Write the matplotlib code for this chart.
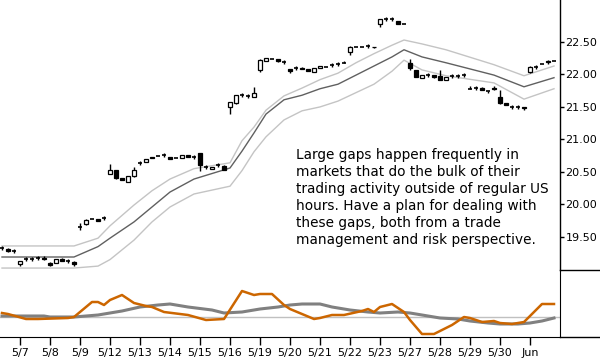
import matplotlib
matplotlib.use("Agg")
import matplotlib.pyplot as plt
from matplotlib.patches import Rectangle
from matplotlib.lines import Line2D

# ---- candle data (5 bars per session) ----
opens = [19.33, 19.32, 19.29, 19.09, 19.16, 19.16, 19.18, 19.18, 19.10, 19.10,
         19.16, 19.13, 19.12, 19.65, 19.70, 19.78, 19.78, 19.79, 20.47, 20.53,
         20.41, 20.35, 20.44, 20.64, 20.65, 20.73, 20.75, 20.76, 20.73, 20.72,
         20.71, 20.76, 20.73, 20.79, 20.58, 20.55, 20.61, 20.59, 21.50, 21.56,
         21.69, 21.67, 21.65, 22.07, 22.21, 22.24, 22.24, 22.19, 22.08, 22.10,
         22.10, 22.08, 22.04, 22.10, 22.12, 22.15, 22.16, 22.18, 22.35, 22.42,
         22.42, 22.44, 22.43, 22.78, 22.85, 22.85, 22.82, 22.78, 22.18, 22.07,
         21.95, 21.99, 21.99, 21.98, 21.92, 21.98, 21.98, 21.99, 21.78, 21.79,
         21.79, 21.75, 21.79, 21.65, 21.56, 21.50, 21.50, 21.50, 22.04, 22.12,
         22.16, 22.20, 22.21]
highs = [19.36, 19.33, 19.32, 19.13, 19.19, 19.19, 19.21, 19.21, 19.12, 19.16,
         19.18, 19.16, 19.13, 19.72, 19.78, 19.78, 19.78, 19.82, 20.62, 20.53,
         20.41, 20.44, 20.58, 20.67, 20.70, 20.73, 20.75, 20.79, 20.73, 20.72,
         20.76, 20.76, 20.76, 20.79, 20.61, 20.58, 20.64, 20.60, 21.58, 21.69,
         21.72, 21.70, 21.81, 22.24, 22.26, 22.24, 22.24, 22.22, 22.08, 22.13,
         22.11, 22.08, 22.10, 22.13, 22.12, 22.18, 22.19, 22.21, 22.44, 22.42,
         22.42, 22.47, 22.43, 22.85, 22.88, 22.88, 22.82, 22.78, 22.24, 22.07,
         21.99, 22.02, 21.99, 22.07, 21.96, 22.01, 22.01, 22.02, 21.82, 21.82,
         21.80, 21.75, 21.82, 21.76, 21.56, 21.53, 21.53, 21.50, 22.13, 22.15,
         22.16, 22.23, 22.21]
lows = [19.30, 19.27, 19.25, 19.05, 19.13, 19.13, 19.15, 19.15, 19.05, 19.10,
        19.13, 19.10, 19.05, 19.61, 19.68, 19.78, 19.74, 19.76, 20.47, 20.39,
        20.37, 20.35, 20.42, 20.61, 20.65, 20.71, 20.75, 20.73, 20.70, 20.72,
        20.71, 20.73, 20.70, 20.51, 20.55, 20.54, 20.58, 20.53, 21.39, 21.55,
        21.65, 21.64, 21.65, 22.04, 22.21, 22.24, 22.19, 22.16, 22.02, 22.07,
        22.08, 22.05, 22.04, 22.10, 22.12, 22.12, 22.13, 22.18, 22.30, 22.42,
        22.42, 22.41, 22.41, 22.73, 22.82, 22.82, 22.77, 22.78, 22.07, 21.96,
        21.95, 21.96, 21.95, 21.92, 21.92, 21.95, 21.95, 21.96, 21.78, 21.76,
        21.76, 21.71, 21.76, 21.55, 21.53, 21.47, 21.47, 21.45, 22.02, 22.09,
        22.16, 22.16, 22.21]
closes = [19.33, 19.29, 19.29, 19.13, 19.16, 19.16, 19.18, 19.16, 19.07, 19.16,
          19.13, 19.13, 19.08, 19.65, 19.76, 19.78, 19.75, 19.79, 20.53, 20.41,
          20.38, 20.44, 20.53, 20.64, 20.70, 20.72, 20.75, 20.76, 20.70, 20.72,
          20.76, 20.73, 20.73, 20.61, 20.58, 20.58, 20.61, 20.53, 21.58, 21.69,
          21.69, 21.67, 21.72, 22.22, 22.25, 22.24, 22.20, 22.19, 22.05, 22.10,
          22.08, 22.05, 22.10, 22.13, 22.12, 22.15, 22.16, 22.18, 22.42, 22.42,
          22.42, 22.44, 22.42, 22.85, 22.85, 22.85, 22.78, 22.78, 22.10, 21.96,
          21.99, 21.99, 21.96, 21.92, 21.96, 21.98, 21.98, 21.99, 21.78, 21.79,
          21.76, 21.75, 21.77, 21.56, 21.53, 21.50, 21.50, 21.48, 22.12, 22.12,
          22.16, 22.19, 22.21]

day_labels = ["5/7", "5/8", "5/9", "5/12", "5/13", "5/14", "5/15", "5/16", "5/19",
              "5/20", "5/21", "5/22", "5/23", "5/27", "5/28", "5/29", "5/30", "Jun"]
day_first_bar = [3, 8, 13, 18, 23, 28, 33, 38, 43, 48, 53, 58, 63, 68, 73, 78, 83, 88]

price_ticks = [19.5, 20.0, 20.5, 21.0, 21.5, 22.0, 22.5]

# ---- moving average and channel ----
ma_x = [0, 12, 16, 18, 22, 25, 28, 32, 38, 40, 42, 44, 47, 50, 53, 56, 59, 62,
        65, 67, 70, 74, 82, 87, 92]
ma_mid = [19.19, 19.19, 19.35, 19.48, 19.73, 19.96, 20.19, 20.39, 20.56, 20.82,
          21.10, 21.39, 21.61, 21.68, 21.78, 21.85, 21.99, 22.13, 22.27, 22.38,
          22.27, 22.18, 21.99, 21.81, 21.95]
ma_upper = [19.36, 19.36, 19.48, 19.67, 19.99, 20.21, 20.39, 20.55, 20.64, 20.98,
            21.19, 21.45, 21.67, 21.79, 21.92, 22.02, 22.18, 22.32, 22.45, 22.53,
            22.47, 22.38, 22.15, 21.98, 22.13]
ma_lower = [19.02, 19.02, 19.05, 19.15, 19.45, 19.73, 19.96, 20.16, 20.28, 20.52,
            20.81, 21.04, 21.30, 21.44, 21.50, 21.59, 21.72, 21.85, 22.05, 22.22,
            22.07, 21.98, 21.87, 21.62, 21.78]

# ---- lower oscillator panel ----
orange_x = [0, 1, 4, 6, 11, 12, 15, 16, 17, 18, 20, 22, 24, 25, 27, 31, 34, 37,
            40, 42, 43, 45, 47, 48, 50, 52, 53, 55, 57, 60, 61, 62, 63, 65, 67,
            68, 70, 72, 75, 77, 78, 80, 82, 83, 85, 87, 90, 92]
orange_v = [0.4, 0.3, -0.2, -0.2, -0.1, 0.0, 1.5, 1.5, 1.2, 1.7, 2.2, 1.4, 1.1,
            1.0, 0.5, 0.2, -0.3, -0.2, 2.6, 2.2, 2.3, 2.3, 1.2, 0.8, 0.3, -0.2,
            -0.1, 0.2, 0.2, 0.6, 0.8, 0.5, 1.0, 1.3, 0.5, -0.3, -1.7, -1.7, -0.8,
            0.0, -0.1, -0.5, -0.4, -0.6, -0.7, -0.5, 1.3, 1.3]
gray_x = [0, 7, 8, 12, 16, 20, 23, 26, 28, 31, 35, 37, 40, 43, 46, 48, 50, 53,
          55, 58, 61, 63, 66, 68, 71, 73, 76, 78, 81, 83, 86, 88, 90, 92]
gray_v = [0.1, 0.1, 0.0, 0.0, 0.2, 0.6, 1.0, 1.2, 1.3, 1.0, 0.7, 0.4, 0.5, 0.8,
          1.0, 1.2, 1.3, 1.3, 1.0, 0.7, 0.5, 0.4, 0.5, 0.4, 0.1, -0.1, -0.2,
          -0.4, -0.6, -0.7, -0.7, -0.6, -0.4, -0.1]

note = ("Large gaps happen frequently in\n"
        "markets that do the bulk of their\n"
        "trading activity outside of regular US\n"
        "hours. Have a plan for dealing with\n"
        "these gaps, both from a trade\n"
        "management and risk perspective.")

# ---- figure ----
W, H = 600, 360
fig = plt.figure(figsize=(6, 3.6), dpi=100)
fig.patch.set_facecolor("white")
right = 560 / W
ax = fig.add_axes([0, 1 - 270 / H, right, 270 / H])
ax2 = fig.add_axes([0, 1 - 337 / H, right, 67 / H])

xlim = (-1 / 3, 93)

# channel
ax.plot(ma_x, ma_upper, color="#c4c4c4", lw=1.0, zorder=1)
ax.plot(ma_x, ma_lower, color="#c4c4c4", lw=1.0, zorder=1)
ax.plot(ma_x, ma_mid, color="#606060", lw=1.0, zorder=1)

# candles
bw = 0.7
for i, (o, h, l, c) in enumerate(zip(opens, highs, lows, closes)):
    ax.vlines(i, l, h, color="black", lw=1.0, zorder=2)
    if abs(c - o) < 0.005:
        ax.hlines(c, i - bw / 2, i + bw / 2, color="black", lw=1.2, zorder=3)
    else:
        fc = "white" if c > o else "black"
        ax.add_patch(Rectangle((i - bw / 2, min(o, c)), bw, abs(c - o),
                               facecolor=fc, edgecolor="black", lw=0.9, zorder=3))

ax.set_xlim(*xlim)
ax.set_ylim(18.99, 23.146)
for s in ["top", "left", "bottom"]:
    ax.spines[s].set_visible(False)
ax.spines["right"].set_linewidth(1.0)
ax.set_xticks([])
ax.yaxis.tick_right()
ax.set_yticks(price_ticks)
ax.set_yticklabels([f"{t:.2f}" for t in price_ticks])
ax.tick_params(axis="y", direction="out", length=3, width=1, pad=1,
               labelsize=8, colors="black")

ax.text(296 / 560, 1 - 148 / 270, note, transform=ax.transAxes,
        ha="left", va="top", fontsize=9.8, linespacing=1.28, color="black")

# oscillator
ax2.axhline(0, color="#c0c0c0", lw=1.0, zorder=1)
ax2.plot(gray_x, gray_v, color="#808080", lw=2.2, zorder=2)
ax2.plot(orange_x, orange_v, color="#cc6600", lw=1.8, zorder=3)
ax2.set_xlim(*xlim)
ax2.set_ylim(-2.0, 4.7)
ax2.spines["top"].set_visible(False)
ax2.spines["left"].set_visible(False)
ax2.set_yticks([])
ax2.set_xticks(day_first_bar)
ax2.set_xticklabels(day_labels)
ax2.tick_params(axis="x", direction="out", length=6, width=1, pad=2,
                labelsize=8, colors="black")
ax2.patch.set_alpha(0)

# separators in the axis margin
fig.add_artist(Line2D([right, 1], [1 - 270 / H, 1 - 270 / H], color="black", lw=1.0))
fig.add_artist(Line2D([right, 1], [1 - 337 / H, 1 - 337 / H], color="black", lw=1.0))

fig.savefig("out.png", dpi=100, facecolor="white")
